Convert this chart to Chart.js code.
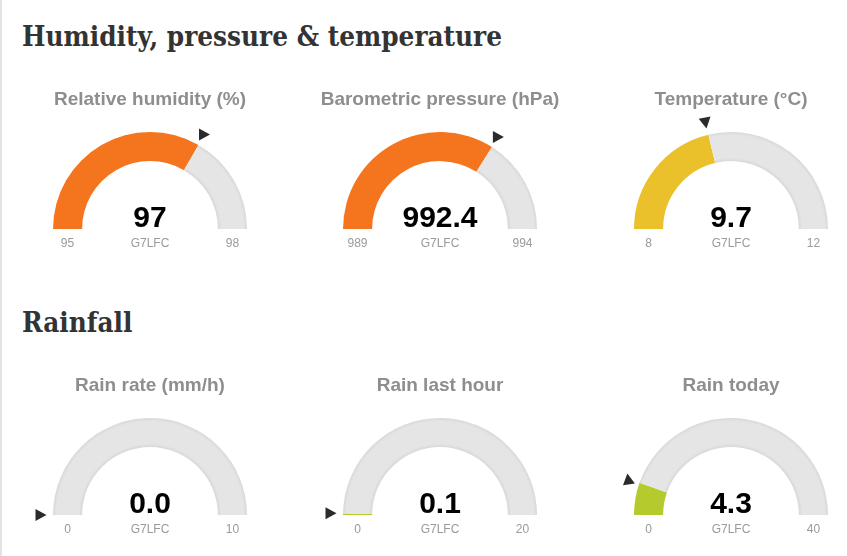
<!DOCTYPE html>
<html>
<head>
<meta charset="utf-8">
<script src="https://cdn.jsdelivr.net/npm/chart.js@4.4.1/dist/chart.umd.min.js"></script>
<style>
  html, body { margin:0; padding:0; background:#fff; }
  #root { position:relative; width:847px; height:556px; overflow:hidden; background:#fff; }
  #edge { position:absolute; left:0; top:0; width:2px; height:556px; background:#e2e2e2; }
  .txt { position:absolute; white-space:nowrap; }
  .heading { font-family:"DejaVu Serif", serif; font-weight:bold; font-size:28px; line-height:28px; color:#333; transform-origin:0 0; }
  .gtitle { font-family:"Liberation Sans", Arial, sans-serif; font-weight:bold; font-size:19px; line-height:19px; color:#8e8e8e; }
  .gvalue { font-family:"Liberation Sans", Arial, sans-serif; font-weight:bold; font-size:30px; line-height:30px; color:#000; }
  .gsmall { font-family:"Liberation Sans", Arial, sans-serif; font-size:12px; line-height:12px; color:#9a9a9a; }
  .gbox { position:absolute; }
</style>
</head>
<body>
<div id="root"><div id="edge"></div></div>
<script>
// ---- data ----
const headings = ["Humidity, pressure & temperature", "Rainfall"];
const gaugeTitles = ["Relative humidity (%)", "Barometric pressure (hPa)", "Temperature (°C)",
                     "Rain rate (mm/h)", "Rain last hour", "Rain today"];
const gaugeValues = [97, 992.4, 9.7, 0.0, 0.1, 4.3];
const gaugeMin = [95, 989, 8, 0, 0, 0];
const gaugeMax = [98, 994, 12, 10, 20, 40];
const gaugeDecimals = [0, 1, 1, 1, 1, 1];
const stationLabel = "G7LFC";

// ---- styles ----
const fillColors = [["#f06c1e", "#f5751f"], ["#f06c1e", "#f5751f"], ["#e3b629", "#eac02b"],
                    ["#aac22a", "#b4ca2d"], ["#aac22a", "#b4ca2d"], ["#aac22a", "#b4ca2d"]];
const trackColors = ["#d9d8d9", "#e6e5e6"];
const markerRotation = [0, 0, 80, 0, 0, -98];
const colCenters = [150, 440, 731];
const rowBottoms = [229, 515];
const headingBaselines = [47, 333];
const R = 97;

const root = document.getElementById('root');

function placeText(text, cls, cx, baseline, size, align, ascentRatio) {
  const el = document.createElement('div');
  el.className = 'txt ' + cls;
  el.textContent = text;
  root.appendChild(el);
  const w = el.getBoundingClientRect().width;
  let left = cx;
  if (align === 'center') left = cx - w / 2;
  el.style.left = left + 'px';
  el.style.top = (baseline - ascentRatio * size) + 'px';
  return el;
}

const hEls = headings.map((h, i) => placeText(h, 'heading', 22, headingBaselines[i], 28, 'left', 0.846));
const hw = hEls[0].getBoundingClientRect().width;
const sx = 480 / hw;
hEls.forEach(e => { e.style.transform = 'scaleX(' + sx + ')'; });

function ringGradient(ctx, colors) {
  const chart = ctx.chart;
  const arc = chart.getDatasetMeta(0).data[0];
  if (!arc || !arc.outerRadius) return colors[1];
  const g = chart.ctx.createRadialGradient(arc.x, arc.y, arc.innerRadius, arc.x, arc.y, arc.outerRadius);
  g.addColorStop(0, colors[0]);
  g.addColorStop(0.12, colors[1]);
  g.addColorStop(0.88, colors[1]);
  g.addColorStop(1, colors[0]);
  return g;
}

const markerPlugin = {
  id: 'gaugeMarker',
  afterDatasetsDraw(chart, args, opts) {
    const arc = chart.getDatasetMeta(0).data[0];
    if (!arc) return;
    const p = arc.getProps(['x', 'y', 'outerRadius', 'endAngle'], true);
    const r = p.outerRadius + 12;
    const px = p.x + Math.cos(p.endAngle) * r;
    const py = p.y + Math.sin(p.endAngle) * r;
    const ctx = chart.ctx;
    ctx.save();
    ctx.translate(px, py);
    ctx.rotate(opts.rotation * Math.PI / 180);
    ctx.beginPath();
    ctx.moveTo(5.5, 0);
    ctx.lineTo(-5.5, -6);
    ctx.lineTo(-5.5, 6);
    ctx.closePath();
    ctx.fillStyle = '#2b2b2b';
    ctx.fill();
    ctx.restore();
  }
};

const padTop = 25, padBottom = 20, boxW = 290;

gaugeTitles.forEach((title, i) => {
  const col = i % 3, row = Math.floor(i / 3);
  const cx = colCenters[col], cy = rowBottoms[row];
  const box = document.createElement('div');
  box.className = 'gbox';
  box.style.left = (cx - boxW / 2) + 'px';
  box.style.top = (cy - R - padTop) + 'px';
  box.style.width = boxW + 'px';
  box.style.height = (R + padTop + padBottom) + 'px';
  const canvas = document.createElement('canvas');
  box.appendChild(canvas);
  root.appendChild(box);

  const v = gaugeValues[i], mn = gaugeMin[i], mx = gaugeMax[i];
  new Chart(canvas, {
    type: 'doughnut',
    data: {
      labels: ['value', 'rest'],
      datasets: [{
        data: [v - mn, mx - v],
        backgroundColor: (ctx) => ringGradient(ctx, ctx.dataIndex === 0 ? fillColors[i] : trackColors),
        borderWidth: 0,
        hoverOffset: 0
      }]
    },
    options: {
      responsive: true,
      maintainAspectRatio: false,
      animation: false,
      rotation: -90,
      circumference: 180,
      cutout: '70%',
      layout: { padding: { left: (boxW - 2 * R) / 2, right: (boxW - 2 * R) / 2, top: padTop, bottom: padBottom } },
      plugins: {
        legend: { display: false },
        tooltip: { enabled: false },
        gaugeMarker: { rotation: markerRotation[i] }
      },
      events: []
    },
    plugins: [markerPlugin]
  });

  const off = row * 286;
  placeText(title, 'gtitle', cx, 105 + off, 19, 'center', 0.8465);
  placeText(v.toFixed(gaugeDecimals[i]), 'gvalue', cx, 227 + off, 30, 'center', 0.8465);
  placeText(stationLabel, 'gsmall', cx, 247 + off, 12, 'center', 0.8465);
  placeText(String(mn), 'gsmall', cx - R + 14.5, 247 + off, 12, 'center', 0.8465);
  placeText(String(mx), 'gsmall', cx + R - 14.5, 247 + off, 12, 'center', 0.8465);
});
</script>
</body>
</html>
